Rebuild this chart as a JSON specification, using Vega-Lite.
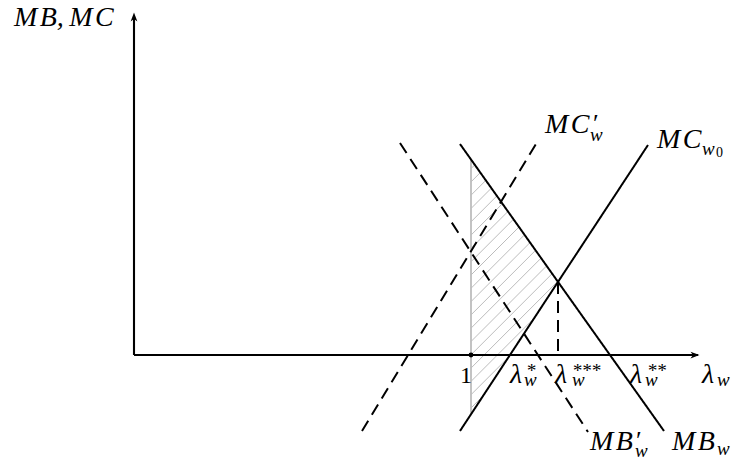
{
  "$schema": "https://vega.github.io/schema/vega-lite/v6.json",
  "width": 736,
  "height": 462,
  "padding": 0,
  "autosize": {"type": "none"},
  "background": "white",
  "config": {"view": {"stroke": null}},
  "datasets": {
    "hatch": [
      {"x": 33.7, "y": -5.30, "x2": 34.91, "y2": -4.09},
      {"x": 33.7, "y": -3.97, "x2": 37.47, "y2": -0.20},
      {"x": 33.7, "y": -2.64, "x2": 40.02, "y2": 3.68},
      {"x": 33.7, "y": -1.31, "x2": 42.37, "y2": 7.36},
      {"x": 33.7, "y": 0.02, "x2": 41.82, "y2": 8.14},
      {"x": 33.7, "y": 1.35, "x2": 41.26, "y2": 8.91},
      {"x": 33.7, "y": 2.68, "x2": 40.71, "y2": 9.69},
      {"x": 33.7, "y": 4.01, "x2": 40.16, "y2": 10.47},
      {"x": 33.7, "y": 5.34, "x2": 39.61, "y2": 11.25},
      {"x": 33.7, "y": 6.67, "x2": 39.05, "y2": 12.02},
      {"x": 33.7, "y": 8.00, "x2": 38.50, "y2": 12.80},
      {"x": 33.7, "y": 9.33, "x2": 37.95, "y2": 13.58},
      {"x": 33.7, "y": 10.66, "x2": 37.40, "y2": 14.36},
      {"x": 33.7, "y": 11.99, "x2": 36.84, "y2": 15.13},
      {"x": 33.7, "y": 13.32, "x2": 36.29, "y2": 15.91},
      {"x": 33.7, "y": 14.65, "x2": 35.74, "y2": 16.69},
      {"x": 33.7, "y": 15.98, "x2": 35.18, "y2": 17.46},
      {"x": 33.7, "y": 17.31, "x2": 34.63, "y2": 18.24},
      {"x": 33.7, "y": 18.64, "x2": 34.08, "y2": 19.02}
    ],
    "bound": [
      {"x": 33.7, "y": 19.55, "x2": 33.7, "y2": -5.93}
    ],
    "curves": [
      {"name": "MB_w", "style": "solid", "x": 32.6, "y": 21.1, "x2": 53.0, "y2": -7.6},
      {"name": "MC_w0", "style": "solid", "x": 32.6, "y": -7.6, "x2": 51.4, "y2": 21.0},
      {"name": "MC'_w", "style": "dashed", "x": 22.8, "y": -7.6, "x2": 40.2, "y2": 21.1},
      {"name": "MB'_w", "style": "dashed", "x": 26.6, "y": 21.2, "x2": 45.4, "y2": -7.7},
      {"name": "lambda***", "style": "dashed", "x": 42.4, "y": 7.31, "x2": 42.4, "y2": 0}
    ],
    "axes": [
      {"x": 0, "y": 0, "x2": 56.4, "y2": 0},
      {"x": 0, "y": 0, "x2": 0, "y2": 33.6}
    ],
    "heads": [
      {"x": 56.1, "y": 0, "dir": "right"},
      {"x": 0, "y": 33.8, "dir": "up"}
    ],
    "dots": [
      {"x": 33.7, "y": 0}
    ],
    "labels": [
      {"role": "main", "text": "M\u200aB,\u2009M\u200aC", "x": -12.0, "y": 32.9},
      {"role": "main", "text": "M\u200aC", "x": 41.1, "y": 22.2},
      {"role": "prime", "text": "′", "x": 45.9, "y": 22.3},
      {"role": "sub", "text": "w", "x": 45.6, "y": 21.4},
      {"role": "main", "text": "M\u200aC", "x": 52.3, "y": 20.7},
      {"role": "sub", "text": "w", "x": 56.8, "y": 20.0},
      {"role": "subsub", "text": "0", "x": 58.2, "y": 19.8},
      {"role": "main", "text": "λ", "x": 37.6, "y": -2.8},
      {"role": "sup", "text": "*", "x": 39.2, "y": -2.2},
      {"role": "sub", "text": "w", "x": 39.0, "y": -3.1},
      {"role": "main", "text": "λ", "x": 42.1, "y": -2.8},
      {"role": "sup", "text": "***", "x": 43.8, "y": -2.2},
      {"role": "sub", "text": "w", "x": 43.8, "y": -3.1},
      {"role": "main", "text": "λ", "x": 49.6, "y": -2.8},
      {"role": "sup", "text": "**", "x": 51.3, "y": -2.2},
      {"role": "sub", "text": "w", "x": 51.1, "y": -3.1},
      {"role": "main", "text": "λ", "x": 56.8, "y": -2.8},
      {"role": "sub", "text": "w", "x": 58.3, "y": -3.1},
      {"role": "num", "text": "1", "x": 32.6, "y": -2.8},
      {"role": "main", "text": "M\u200aB", "x": 45.6, "y": -9.5},
      {"role": "prime", "text": "′", "x": 50.2, "y": -9.4},
      {"role": "sub", "text": "w", "x": 50.1, "y": -10.2},
      {"role": "main", "text": "M\u200aB", "x": 53.8, "y": -9.5},
      {"role": "sub", "text": "w", "x": 58.3, "y": -10.0}
    ]
  },
  "encoding": {
    "x": {"field": "x", "type": "quantitative", "scale": {"domain": [-13.4, 60.2], "nice": false, "zero": false}, "axis": null},
    "y": {"field": "y", "type": "quantitative", "scale": {"domain": [-10.7, 35.5], "nice": false, "zero": false}, "axis": null}
  },
  "layer": [
    {
      "data": {"name": "hatch"},
      "mark": {"type": "rule", "color": "#bcbcbc", "strokeWidth": 1},
      "encoding": {"x2": {"field": "x2"}, "y2": {"field": "y2"}}
    },
    {
      "data": {"name": "bound"},
      "mark": {"type": "rule", "color": "#bdbdbd", "strokeWidth": 1.8},
      "encoding": {"x2": {"field": "x2"}, "y2": {"field": "y2"}}
    },
    {
      "data": {"name": "curves"},
      "mark": {"type": "rule", "color": "black", "strokeWidth": 2},
      "encoding": {
        "x2": {"field": "x2"},
        "y2": {"field": "y2"},
        "strokeDash": {"field": "style", "type": "nominal", "scale": {"domain": ["solid", "dashed"], "range": [[1, 0], [12, 7]]}, "legend": null}
      }
    },
    {
      "data": {"name": "axes"},
      "mark": {"type": "rule", "color": "black", "strokeWidth": 2.1},
      "encoding": {"x2": {"field": "x2"}, "y2": {"field": "y2"}}
    },
    {
      "data": {"name": "heads"},
      "transform": [{"filter": "datum.dir === 'right'"}],
      "mark": {"type": "point", "shape": "M1,0L-1,-0.75L-0.45,0L-1,0.75Z", "filled": true, "color": "black", "opacity": 1, "size": 81, "angle": 0}
    },
    {
      "data": {"name": "heads"},
      "transform": [{"filter": "datum.dir === 'up'"}],
      "mark": {"type": "point", "shape": "M1,0L-1,-0.75L-0.45,0L-1,0.75Z", "filled": true, "color": "black", "opacity": 1, "size": 81, "angle": 270}
    },
    {
      "data": {"name": "dots"},
      "mark": {"type": "point", "shape": "circle", "filled": true, "color": "black", "opacity": 1, "size": 24}
    },
    {
      "data": {"name": "labels"},
      "transform": [{"filter": "datum.role === 'main'"}],
      "mark": {"type": "text", "align": "left", "baseline": "alphabetic", "font": "Liberation Serif", "fontStyle": "italic", "fontSize": 28, "color": "black"},
      "encoding": {"text": {"field": "text"}}
    },
    {
      "data": {"name": "labels"},
      "transform": [{"filter": "datum.role === 'sub' || datum.role === 'sup'"}],
      "mark": {"type": "text", "align": "left", "baseline": "alphabetic", "font": "Liberation Serif", "fontStyle": "italic", "fontSize": 19, "color": "black"},
      "encoding": {"text": {"field": "text"}}
    },
    {
      "data": {"name": "labels"},
      "transform": [{"filter": "datum.role === 'prime'"}],
      "mark": {"type": "text", "align": "left", "baseline": "alphabetic", "font": "Liberation Serif", "fontSize": 26, "color": "black"},
      "encoding": {"text": {"field": "text"}}
    },
    {
      "data": {"name": "labels"},
      "transform": [{"filter": "datum.role === 'subsub'"}],
      "mark": {"type": "text", "align": "left", "baseline": "alphabetic", "font": "Liberation Serif", "fontSize": 14, "color": "black"},
      "encoding": {"text": {"field": "text"}}
    },
    {
      "data": {"name": "labels"},
      "transform": [{"filter": "datum.role === 'num'"}],
      "mark": {"type": "text", "align": "left", "baseline": "alphabetic", "font": "Liberation Serif", "fontSize": 24, "color": "black"},
      "encoding": {"text": {"field": "text"}}
    }
  ]
}
